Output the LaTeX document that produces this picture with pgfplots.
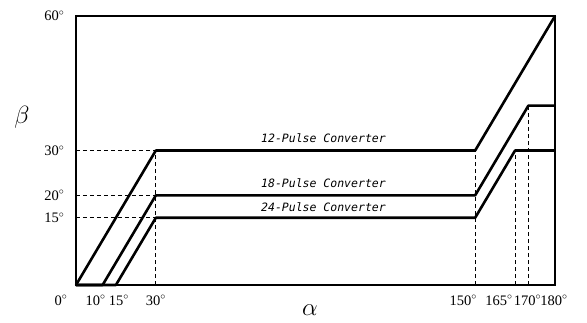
\documentclass[border=0pt]{standalone}
\usepackage{pgfplots}
\pgfplotsset{compat=1.18}
\usepackage{fontspec}
\setmainfont{Liberation Serif}
\newfontfamily\labfont{DejaVu Sans Mono}
\newcommand\sh[2]{\makebox[0pt]{\hspace*{#1}#2\hspace*{-#1}}}
\begin{document}
\begin{tikzpicture}
\useasboundingbox (0,0) rectangle (587pt,322pt);
\begin{axis}[
  at={(76pt,37pt)}, anchor=south west,
  scale only axis, width=479pt, height=269pt,
  xmin=0, xmax=180, ymin=0, ymax=60,
  axis line style={line width=1.6pt},
  major tick length=0pt,
  xtick={0,10,15,30,150,165,170,180},
  xticklabels={\sh{-15pt}{0$^\circ$},\sh{-7pt}{10$^\circ$},\sh{3pt}{15$^\circ$},30$^\circ$,\sh{-12pt}{150$^\circ$},\sh{-16pt}{165$^\circ$},\sh{-1pt}{170$^\circ$},\sh{-1pt}{180$^\circ$}},
  ytick={15,20,30,60},
  yticklabels={15$^\circ$,20$^\circ$,30$^\circ$,60$^\circ$},
  tick label style={font=\fontsize{14.5}{17}\selectfont},
  xticklabel style={inner xsep=0pt, yshift=-7pt},
  yticklabel style={xshift=-8pt},
  clip=false,
]
\addplot[black, line width=2.6pt, line join=round] coordinates {(0,0)(30,30)(150,30)(180,60)};
\addplot[black, line width=2.6pt, line join=round] coordinates {(0,0)(10,0)(30,20)(150,20)(170,40)(180,40)};
\addplot[black, line width=2.6pt, line join=round] coordinates {(0,0)(15,0)(30,15)(150,15)(165,30)(180,30)};
\addplot[black, line width=0.8pt, dash pattern=on 4pt off 3pt] coordinates {(0,30)(30,30)};
\addplot[black, line width=0.8pt, dash pattern=on 4pt off 3pt] coordinates {(0,20)(30,20)};
\addplot[black, line width=0.8pt, dash pattern=on 4pt off 3pt] coordinates {(0,15)(30,15)};
\addplot[black, line width=0.8pt, dash pattern=on 4pt off 3pt] coordinates {(30,0)(30,30)};
\addplot[black, line width=0.8pt, dash pattern=on 4pt off 3pt] coordinates {(150,0)(150,30)};
\addplot[black, line width=0.8pt, dash pattern=on 4pt off 3pt] coordinates {(165,0)(165,30)};
\addplot[black, line width=0.8pt, dash pattern=on 4pt off 3pt] coordinates {(170,0)(170,40)};
\node[font=\labfont\itshape\fontsize{11.5}{13}\selectfont] at (axis cs:93,32.8) {12-Pulse Converter};
\node[font=\labfont\itshape\fontsize{11.5}{13}\selectfont] at (axis cs:93,22.8) {18-Pulse Converter};
\node[font=\labfont\itshape\fontsize{11.5}{13}\selectfont] at (axis cs:93,17.4) {24-Pulse Converter};
\node[font=\fontsize{27}{29}\selectfont] at (axis cs:-20.3,37.3) {$\beta$};
\node[font=\fontsize{25}{27}\selectfont] at (axis cs:87.9,-5.6) {$\alpha$};
\end{axis}
\end{tikzpicture}
\end{document}
